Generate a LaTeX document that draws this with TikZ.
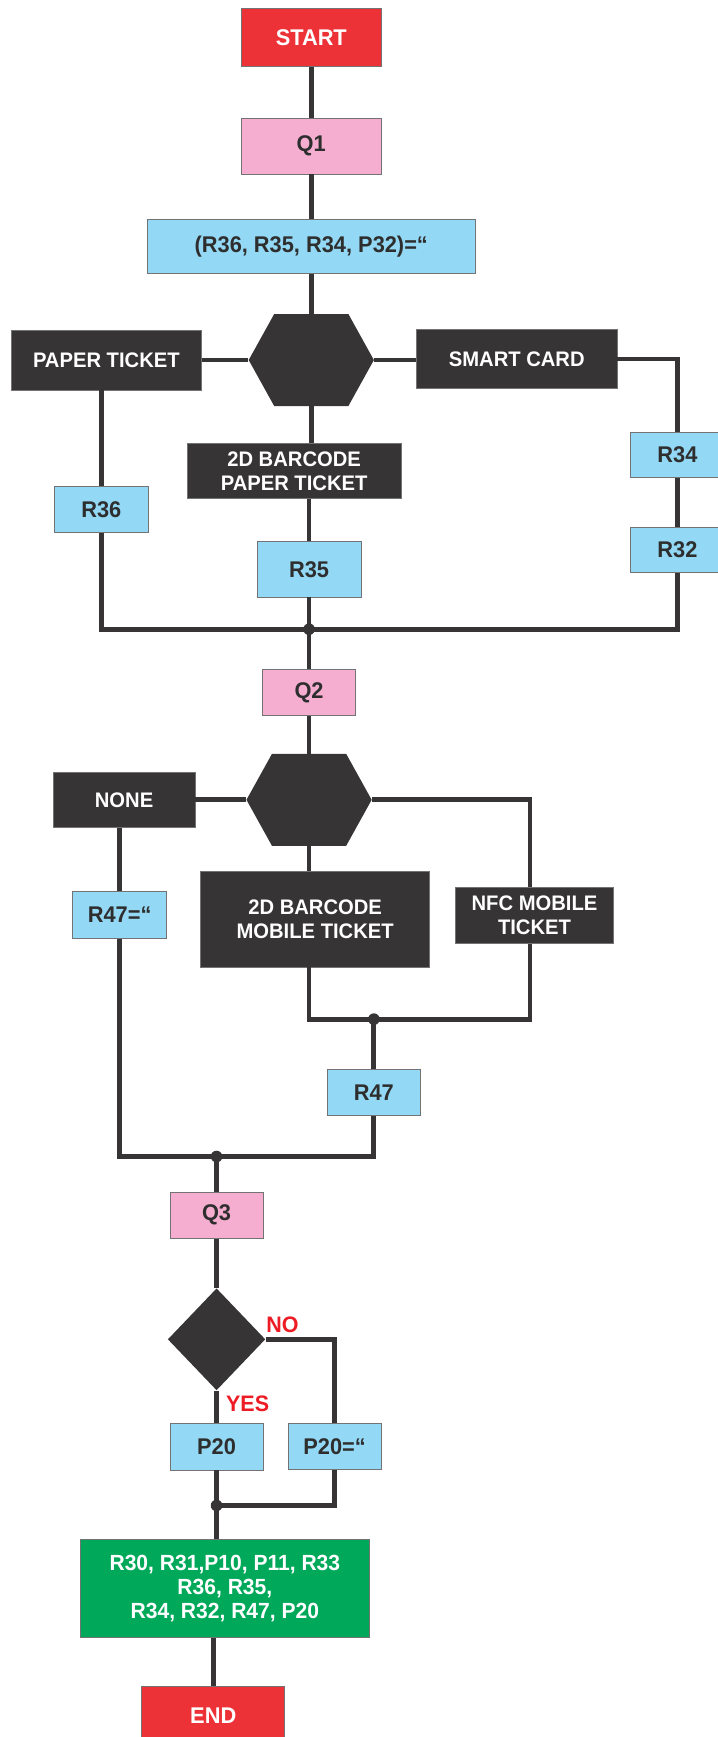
\documentclass[tikz,border=0pt]{standalone}
\usepackage{fontspec}
\setmainfont{Liberation Sans}[FakeStretch=0.96]
\usetikzlibrary{shapes.geometric}

\definecolor{termred}{HTML}{ED3237}
\definecolor{qpink}{HTML}{F5AED0}
\definecolor{abblue}{HTML}{93D9F5}
\definecolor{optdark}{HTML}{363435}
\definecolor{resgreen}{HTML}{00A859}
\definecolor{txtdark}{HTML}{2E2E2E}
\definecolor{lblred}{HTML}{ED1C24}

\tikzset{
  sz/.style 2 args={minimum width=#1pt, minimum height=#2pt},
  box/.style={rectangle, draw=black!55, line width=0.7pt, inner sep=0pt,
    align=center, text=txtdark, font=\bfseries\fontsize{20.5}{22}\selectfont},
  terminal/.style={box, fill=termred, text=white},
  question/.style={box, fill=qpink},
  assign/.style={box, fill=abblue},
  option/.style={box, fill=optdark, text=white, font=\bfseries\fontsize{19}{21.7}\selectfont},
  result/.style={box, fill=resgreen, text=white, font=\bfseries\fontsize{19.8}{21.7}\selectfont},
  hexchoice/.style={rectangle, inner sep=0pt, sz={113}{83},
    path picture={\fill[optdark] (path picture bounding box.west)
      -- ([xshift=23pt]path picture bounding box.north west)
      -- ([xshift=-23pt]path picture bounding box.north east)
      -- (path picture bounding box.east)
      -- ([xshift=-23pt]path picture bounding box.south east)
      -- ([xshift=23pt]path picture bounding box.south west) -- cycle;}},
  decision/.style={diamond, fill=optdark, inner sep=0pt, sz={88}{92}},
  wire/.style={line width=4.3pt, draw=optdark},
  joint/.style={circle, fill=optdark, inner sep=0pt, minimum size=10.5pt},
  branch/.style={text=lblred, font=\bfseries\fontsize{20.2}{22}\selectfont, inner sep=0pt}
}

\begin{document}
\begin{tikzpicture}[x=1pt, y=-1pt]
\useasboundingbox (0,0) rectangle (648,1568);

% --- first question: ticket type ---
\node[terminal, sz={127}{52}] (start) at (281,34) {START};
\node[question, sz={127}{50}] (q1) at (281,132) {Q1};
\node[assign, sz={296}{49}] (init) at (281,222.5) {(R36, R35, R34, P32)=“};
\node[hexchoice] (h1) at (281,325) {};
\node[option, sz={172}{54}] (paper) at (96,325) {PAPER TICKET};
\node[option, sz={181}{54}] (smart) at (466.5,324) {SMART CARD};
\node[option, sz={193}{50}] (bc1) at (265.5,425) {2D BARCODE\\PAPER TICKET};
\node[assign, sz={84}{42}] (r36) at (91.5,460) {R36};
\node[assign, sz={94}{50}] (r35) at (279,514) {R35};
\node[assign, sz={85}{41}] (r34) at (611.5,410.5) {R34};
\node[assign, sz={85}{41}] (r32) at (611.5,496.5) {R32};
\coordinate (j1) at (279,568);

% --- second question: mobile ticket ---
\node[question, sz={84}{42}] (q2) at (279,625) {Q2};
\node[hexchoice] (h2) at (279,722) {};
\node[option, sz={128}{50}] (none) at (112,722) {NONE};
\node[option, sz={207}{86}] (bc2) at (284.5,830) {2D BARCODE\\MOBILE TICKET};
\node[option, sz={143}{51}] (nfc) at (482.5,826.5) {NFC MOBILE\\TICKET};
\node[assign, sz={85}{42}] (r47q) at (108,826) {R47=“};
\coordinate (j2) at (337.5,920);
\node[assign, sz={84}{42}] (r47) at (337.5,986) {R47};
\coordinate (j3) at (195.5,1044);

% --- third question: yes / no ---
\node[question, sz={84}{42}] (q3) at (195.5,1097) {Q3};
\node[decision] (dec) at (195.5,1209) {};
\node[branch] (no) at (255,1196) {NO};
\node[branch] (yes) at (223.5,1267) {YES};
\node[assign, sz={84}{42}] (p20) at (195.5,1306) {P20};
\node[assign, sz={84}{42}] (p20q) at (302,1305.5) {P20=“};
\coordinate (j4) at (195.5,1359);
\node[result, sz={261}{88}] (res) at (203,1434) {R30, R31,P10, P11, R33\\R36, R35,\\R34, R32, R47, P20};
\node[terminal, sz={129}{54}] (end) at (192.5,1549) {END};

% --- connectors ---
\draw[wire] (start.south) -- (q1.north);
\draw[wire] (q1.south) -- (init.north);
\draw[wire] (init.south) -- (h1.north);
\draw[wire] (h1.west) -- (h1.west -| paper.east);
\draw[wire] (h1.east) -- (h1.east -| smart.west);
\draw[wire] (smart.east) -| (r34.north);
\draw[wire] (r34.south) -- (r32.north);
\draw[wire] (paper.south -| r36) -- (r36.north);
\draw[wire] (h1.south) -- (h1.south |- bc1.north);
\draw[wire] (bc1.south -| r35) -- (r35.north);
\draw[wire] (r36.south) |- (j1);
\draw[wire] (r32.south) |- (j1);
\draw[wire] (r35.south) -- (j1);
\draw[wire] (j1) -- (q2.north);
\draw[wire] (q2.south) -- (h2.north);
\draw[wire] (h2.west) -- (h2.west -| none.east);
\draw[wire] (h2.east) -| ([xshift=-4pt]nfc.north);
\draw[wire] (h2.south) -- (h2.south |- bc2.north);
\draw[wire] (none.south -| r47q) -- (r47q.north);
\draw[wire] (h2.south |- bc2.south) |- (j2);
\draw[wire] ([xshift=-4pt]nfc.south) |- (j2);
\draw[wire] (j2) -- (r47.north);
\draw[wire] (r47q.south) |- (j3);
\draw[wire] (r47.south) |- (j3);
\draw[wire] (j3) -- (q3.north);
\draw[wire] (q3.south) -- (dec.north);
\draw[wire] (dec.south) -- (p20.north);
\draw[wire] (dec.east) -| (p20q.north);
\draw[wire] (p20.south) -- (j4);
\draw[wire] (p20q.south) |- (j4);
\draw[wire] (j4) -- (j4 |- res.north);
\draw[wire] (res.south -| end) -- (end.north);

% --- junction dots ---
\foreach \j in {j1,j2,j3,j4}
  \node[joint] at (\j) {};
\end{tikzpicture}
\end{document}
